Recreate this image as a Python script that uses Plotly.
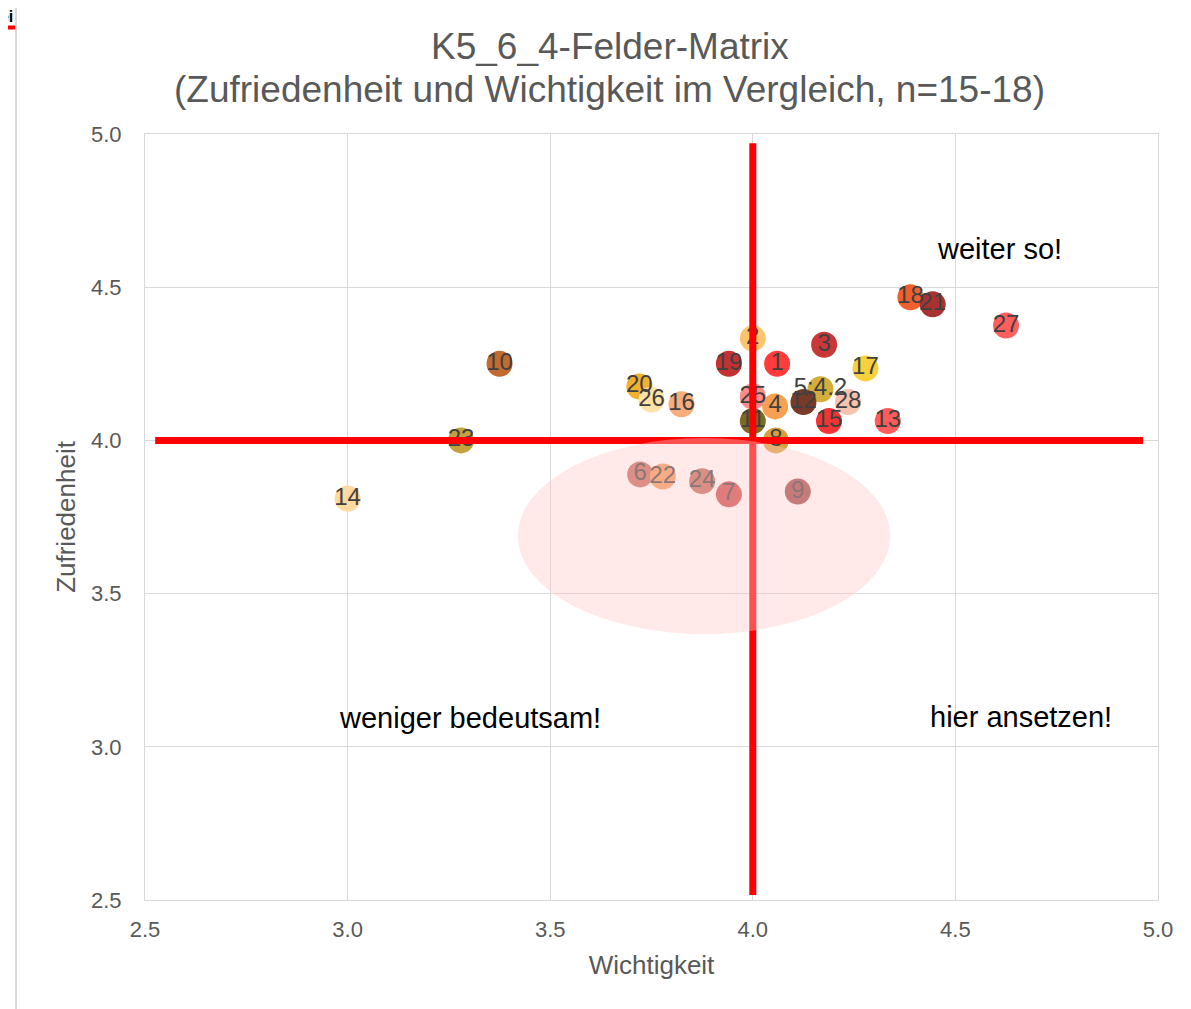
import plotly.graph_objects as go

labels = ["1", "2", "3", "4", "5:4.2", "6", "7", "8", "9", "10", "11", "12", "13", "14",
          "15", "16", "17", "18", "19", "20", "21", "22", "23", "24", "25", "26", "27", "28"]
wichtigkeit = [4.06, 4.00, 4.176, 4.055, 4.167, 3.722, 3.941, 4.057, 4.111, 3.375, 4.00, 4.125, 4.333, 3.00,
               4.188, 3.824, 4.278, 4.389, 3.941, 3.72, 4.444, 3.778, 3.28, 3.875, 4.00, 3.75, 4.625, 4.235]
zufriedenheit = [4.25, 4.333, 4.312, 4.111, 4.167, 3.889, 3.824, 4.00, 3.833, 4.25, 4.063, 4.125, 4.063, 3.81,
                 4.063, 4.118, 4.235, 4.467, 4.25, 4.176, 4.444, 3.882, 4.00, 3.867, 4.143, 4.133, 4.375, 4.125]
colors = ["#FF3B3B", "#FFC46E", "#C83838", "#F7A052", "#D4AE3A", "#C46A5A", "#CC4A4A", "#D6A03E", "#A04848",
          "#C26A30", "#7E6A22", "#7A3A28", "#FF5C5C", "#FFD9A0", "#F23434", "#F8AE7C", "#F7D03E", "#F0602E",
          "#C23232", "#F2B030", "#A83232", "#F29A5A", "#C4A23E", "#C06A58", "#FF8C8C", "#FFE3A6", "#FF5E5E",
          "#F8C2B0"]

x_title = "Wichtigkeit"
y_title = "Zufriedenheit"
title_lines = ["K5_6_4-Felder-Matrix", "(Zufriedenheit und Wichtigkeit im Vergleich, n=15-18)"]
title_y = [1.1136, 1.0587]
quadrant_texts = ["weiter so!", "weniger bedeutsam!", "hier ansetzen!"]
quadrant_x = [4.61, 3.302, 4.662]
quadrant_y = [4.625, 3.094, 3.097]
tick_vals = [2.5, 3.0, 3.5, 4.0, 4.5, 5.0]
tick_text = ["2.5", "3.0", "3.5", "4.0", "4.5", "5.0"]

FONT = "Liberation Sans, Arial, sans-serif"

fig = go.Figure()
fig.add_trace(go.Scatter(
    x=wichtigkeit, y=zufriedenheit, mode="markers+text", text=labels,
    textposition="middle center",
    textfont=dict(family=FONT, size=24, color="#404040"),
    marker=dict(size=26, color=colors, line=dict(width=0)),
    showlegend=False, hoverinfo="skip", cliponaxis=False,
))

shapes = [
    # red quadrant lines
    dict(type="line", xref="x", yref="y", x0=4.0, x1=4.0, y0=2.516, y1=4.97,
         line=dict(color="#FF0000", width=7), layer="above"),
    dict(type="line", xref="x", yref="y", x0=2.525, x1=4.963, y0=4.0, y1=4.0,
         line=dict(color="#FF0000", width=7), layer="above"),
    # pale ellipse
    dict(type="circle", xref="x", yref="y", x0=3.42, x1=4.339, y0=3.368, y1=4.008,
         fillcolor="rgba(255,200,200,0.4)", line=dict(width=0), layer="above"),
    # outer frame lines
    dict(type="line", xref="paper", yref="paper", x0=-0.1273, x1=-0.1273, y0=-0.15, y1=1.18,
         line=dict(color="#d9d9d9", width=2), layer="above"),
    dict(type="line", xref="paper", yref="paper", x0=-0.1273, x1=1.04, y0=1.171, y1=1.171,
         line=dict(color="#d9d9d9", width=2), layer="above"),
    dict(type="line", xref="paper", yref="paper", x0=-0.1273, x1=-0.101, y0=1.172, y1=1.172,
         line=dict(color="#FF6060", width=2), layer="above"),
    dict(type="line", xref="paper", yref="paper", x0=-0.15, x1=-0.1283, y0=1.170, y1=1.170,
         line=dict(color="#FF0000", width=3), layer="above"),
    dict(type="line", xref="paper", yref="paper", x0=-0.15, x1=-0.1283, y0=1.139, y1=1.139,
         line=dict(color="#FF0000", width=4), layer="above"),
]

annotations = [
    dict(text=t, x=xx, y=yy, xref="x", yref="y", showarrow=False,
         font=dict(family=FONT, size=29, color="#000000"), xanchor="center", yanchor="middle")
    for t, xx, yy in zip(quadrant_texts, quadrant_x, quadrant_y)
]
for t, yy in zip(title_lines, title_y):
    annotations.append(dict(text=t, x=0.459, y=yy, xref="paper", yref="paper", showarrow=False,
                            xanchor="center", yanchor="middle",
                            font=dict(family=FONT, size=37, color="#595959")))
annotations.append(dict(text="<b>kei</b>", x=-0.128, y=1.154, xref="paper", yref="paper",
                        showarrow=False, xanchor="right", yanchor="middle",
                        font=dict(family=FONT, size=16, color="#000000")))

axis_common = dict(
    range=[2.5, 5.0], tickvals=tick_vals, ticktext=tick_text,
    showgrid=True, gridcolor="#d9d9d9", gridwidth=1,
    showline=True, linecolor="#d9d9d9", linewidth=1, mirror=True,
    zeroline=False, ticks="", tickfont=dict(family=FONT, size=22, color="#595959"),
    fixedrange=True,
)

fig.update_layout(
    width=1183, height=1001,
    margin=dict(l=137, r=33, t=126, b=109),
    paper_bgcolor="white", plot_bgcolor="white",
    xaxis=dict(**axis_common, ticklabelstandoff=10,
               title=dict(text=x_title, standoff=14,
                          font=dict(family=FONT, size=26, color="#595959"))),
    yaxis=dict(**axis_common, ticklabelstandoff=18,
               title=dict(text=y_title, standoff=7,
                          font=dict(family=FONT, size=26, color="#595959"))),
    shapes=shapes, annotations=annotations,
)

fig.write_html("out.html")
